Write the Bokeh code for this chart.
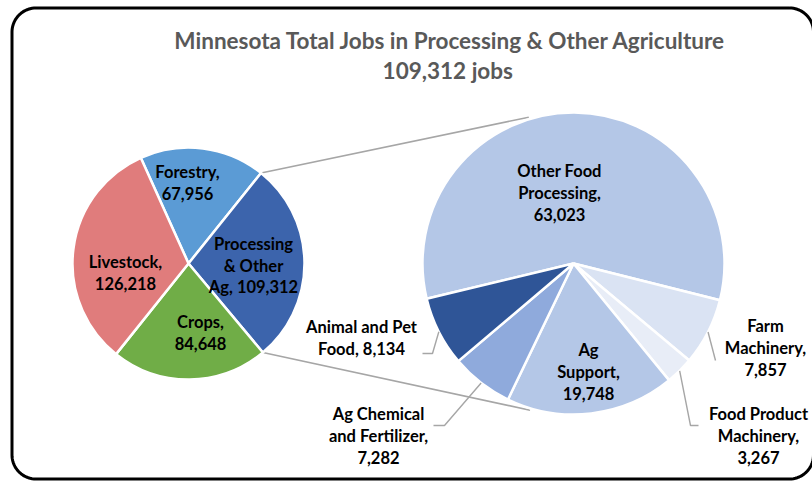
import numpy as np
from bokeh.plotting import figure
from bokeh.models import Range1d
from bokeh.core.properties import value
from bokeh.embed import file_html
from bokeh.resources import INLINE

# ---------------- data ----------------
title_lines = ["Minnesota Total Jobs in Processing & Other Agriculture", "109,312  jobs"]

main_categories = ["Forestry", "Processing & Other Ag", "Crops", "Livestock"]
main_values = [67956, 109312, 84648, 126218]
main_label_fmt = ["Forestry,\n{v}", "Processing\n& Other\nAg, {v}", "Crops,\n{v}", "Livestock,\n{v}"]

sub_categories = ["Other Food Processing", "Farm Machinery", "Food Product Machinery",
                  "Ag Support", "Ag Chemical and Fertilizer", "Animal and Pet Food"]
sub_values = [63023, 7857, 3267, 19748, 7282, 8134]
sub_label_fmt = ["Other Food\nProcessing,\n{v}", "Farm\nMachinery,\n{v}", "Food Product\nMachinery,\n{v}",
                 "Ag\nSupport,\n{v}", "Ag Chemical\nand Fertilizer,\n{v}", "Animal and Pet\nFood, {v}"]

# ---------------- style / layout ----------------
main_colors = ["#5B9BD5", "#3C64AC", "#70AD47", "#E07C7C"]
sub_colors = ["#B4C7E7", "#DAE3F3", "#E8EDF7", "#B4C7E7", "#8FAADC", "#2F5597"]

W, H = 812, 481


def Y(sy):
    return H - sy


main_c = (188, Y(263)); main_r = 116; main_start = -24.3   # clockwise from top, degrees
sub_c = (573, Y(263)); sub_r = 151; sub_start = 256.5

main_label_pos = [(187, 182.5), (253, 265), (200, 332), (125, 272.5)]
sub_label_pos = [(559, 192), (765, 347), (758, 435), (588, 371), (378, 435), (361, 337.5)]
# leader line tail points (screen coords), for outside labels
leaders = {
    1: [(715, 360)],
    2: [(690, 425), (698, 425)],
    4: [(444, 425), (433, 425)],
    5: [(432, 353), (422, 353)],
}
LINE_SP = 21.5
FONT = value("Lato")

p = figure(width=W, height=H, x_range=Range1d(0, W), y_range=Range1d(0, H),
           output_backend="svg", toolbar_location=None, min_border=0,
           x_axis_location=None, y_axis_location=None)
p.grid.visible = False
p.outline_line_color = None
p.background_fill_color = "white"
p.border_fill_color = "white"

# rounded frame
def rounded_rect(x0, y0, x1, y1, r):
    xs, ys = [], []
    corners = [(x1 - r, y0 + r, -90, 0), (x1 - r, y1 - r, 0, 90),
               (x0 + r, y1 - r, 90, 180), (x0 + r, y0 + r, 180, 270)]
    for cx, cy, a0, a1 in corners:
        t = np.radians(np.linspace(a0, a1, 20))
        xs += list(cx + r * np.cos(t))
        ys += list(cy + r * np.sin(t))
    xs.append(xs[0]); ys.append(ys[0])
    return xs, [Y(v) for v in ys]

fx, fy = rounded_rect(11.5, 7.5, 813, 478.5, 24)
p.line(fx, fy, line_color="black", line_width=3)


def slice_angles(vals, start):
    vals = np.array(vals, dtype=float)
    frac = vals / vals.sum()
    ends = start + np.cumsum(frac) * 360.0
    starts = ends - frac * 360.0
    return starts, ends


def pt(c, r, theta_cw):
    t = np.radians(theta_cw)
    return c[0] + r * np.sin(t), c[1] + r * np.cos(t)


ms, me = slice_angles(main_values, main_start)
ss, se = slice_angles(sub_values, sub_start)

# connector lines between pies
a = pt(main_c, main_r, ms[1]); b = pt(sub_c, sub_r + 2, -17.0)
p.line([a[0], b[0]], [a[1], b[1]], line_color="#A6A6A6", line_width=1.6)
a = pt(main_c, main_r, me[1]); b = pt(sub_c, sub_r + 2, 196.5)
p.line([a[0], b[0]], [a[1], b[1]], line_color="#A6A6A6", line_width=1.6)

# wedges (math angle = 90 - clockwise angle)
p.wedge(x=main_c[0], y=main_c[1], radius=main_r,
        start_angle=list(np.radians(90 - me)), end_angle=list(np.radians(90 - ms)),
        fill_color=main_colors, line_color="white", line_width=2.5)
p.wedge(x=sub_c[0], y=sub_c[1], radius=sub_r,
        start_angle=list(np.radians(90 - se)), end_angle=list(np.radians(90 - ss)),
        fill_color=sub_colors, line_color="white", line_width=2.5)

# leader lines
for i, tail in leaders.items():
    mid = (ss[i] + se[i]) / 2
    s0 = pt(sub_c, sub_r, mid)
    xs = [s0[0]] + [t[0] for t in tail]
    ys = [s0[1]] + [Y(t[1]) for t in tail]
    p.line(xs, ys, line_color="#A6A6A6", line_width=1.4)


def draw_label(txt, pos):
    lines = txt.split("\n")
    n = len(lines)
    for k, ln in enumerate(lines):
        sy = pos[1] + (k - (n - 1) / 2) * LINE_SP
        p.text(x=[pos[0]], y=[Y(sy)], text=[ln], text_font=FONT, text_font_style="bold",
               text_font_size="16.5px", text_color="#000000",
               text_align="center", text_baseline="middle")


for fmt, v, pos in zip(main_label_fmt, main_values, main_label_pos):
    draw_label(fmt.format(v=f"{v:,}"), pos)
for fmt, v, pos in zip(sub_label_fmt, sub_values, sub_label_pos):
    draw_label(fmt.format(v=f"{v:,}"), pos)

# title
for k, (t, sy) in enumerate(zip(title_lines, [40, 70])):
    p.text(x=[450], y=[Y(sy)], text=[t], text_font=FONT, text_font_style="bold",
           text_font_size="22.5px", text_color="#595959",
           text_align="center", text_baseline="middle")

open("out.html", "w").write(file_html(p, INLINE))
